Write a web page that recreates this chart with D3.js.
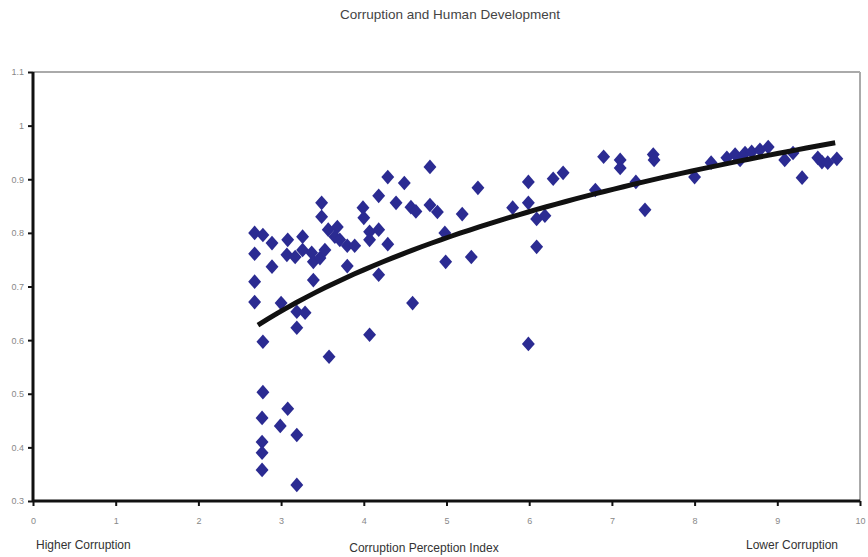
<!DOCTYPE html>
<html>
<head>
<meta charset="utf-8">
<script src="https://cdn.jsdelivr.net/npm/d3@7.9.0/dist/d3.min.js"></script>
<style>
  body { margin: 0; background: #fff; }
  svg text { font-family: "Liberation Sans Narrow", "Liberation Sans", Arial, sans-serif; }
</style>
</head>
<body>
<svg id="chart" width="868" height="557"></svg>
<script>
// corruption perception index (x) vs human development index (y)
const cpi = [
  2.68, 2.78, 2.68, 2.68, 2.68, 2.78, 2.78, 2.77, 2.77, 2.77, 2.77,
  2.89, 2.89, 3.00, 2.99, 3.08, 3.19, 3.19, 3.19, 3.29, 3.19,
  3.08, 3.26, 3.07, 3.17, 3.26, 3.37, 3.39, 3.47, 3.53, 3.39,
  3.49, 3.49, 3.57, 3.68, 3.65, 3.71, 3.80, 3.89, 3.80, 3.58,
  3.99, 4.00, 4.07, 4.18, 4.07, 4.29, 4.18, 4.07, 4.18, 4.29,
  4.49, 4.39, 4.57, 4.63, 4.80, 4.80, 4.89, 4.98, 4.99, 4.59,
  5.19, 5.30, 5.38, 5.80, 5.99, 5.99, 6.09, 6.19, 6.09, 5.99,
  6.29, 6.41, 6.80, 6.90, 7.10, 7.10, 7.29, 7.40, 7.50, 7.51,
  8.00, 8.20, 8.39, 8.49, 8.55, 8.61, 8.69, 8.79, 8.89, 9.09,
  9.19, 9.30, 9.49, 9.54, 9.61, 9.72
];
const hdi = [
  0.800, 0.796, 0.761, 0.709, 0.671, 0.597, 0.503, 0.455, 0.410, 0.390, 0.358,
  0.781, 0.737, 0.669, 0.440, 0.472, 0.423, 0.330, 0.653, 0.651, 0.623,
  0.787, 0.793, 0.759, 0.755, 0.768, 0.763, 0.746, 0.753, 0.768, 0.712,
  0.856, 0.830, 0.806, 0.811, 0.793, 0.787, 0.776, 0.776, 0.738, 0.569,
  0.847, 0.828, 0.802, 0.806, 0.787, 0.779, 0.722, 0.610, 0.869, 0.904,
  0.893, 0.856, 0.848, 0.840, 0.923, 0.852, 0.839, 0.800, 0.746, 0.669,
  0.835, 0.755, 0.884, 0.847, 0.895, 0.856, 0.826, 0.832, 0.774, 0.593,
  0.901, 0.912, 0.880, 0.942, 0.936, 0.921, 0.895, 0.843, 0.946, 0.936,
  0.904, 0.931, 0.940, 0.946, 0.936, 0.949, 0.951, 0.955, 0.960, 0.936,
  0.949, 0.903, 0.940, 0.932, 0.931, 0.938
];
const xTicks = [0, 1, 2, 3, 4, 5, 6, 7, 8, 9, 10];
const yTicks = [0.3, 0.4, 0.5, 0.6, 0.7, 0.8, 0.9, 1, 1.1];

// logarithmic trend line as shown on the chart: y = a + b ln(x)
const trendA = 0.3604;
const trendB = 0.2674;
const trendRange = [2.72, 9.70];

const svg = d3.select("#chart");
const x = d3.scaleLinear().domain([0, 10]).range([33, 860]);
const y = d3.scaleLinear().domain([0.3, 1.1]).range([501, 72]);

// title
svg.append("text")
  .attr("x", 450).attr("y", 19)
  .attr("text-anchor", "middle")
  .attr("font-size", 13.5).attr("fill", "#444")
  .text("Corruption and Human Development");

// frame: gray top/right
svg.append("line").attr("x1", x(0)).attr("x2", x(10)).attr("y1", y(1.1)).attr("y2", y(1.1))
  .attr("stroke", "#aaa").attr("stroke-width", 2);
svg.append("line").attr("x1", x(10)).attr("x2", x(10)).attr("y1", y(1.1)).attr("y2", y(0.3))
  .attr("stroke", "#aaa").attr("stroke-width", 2);

// axes
const xAxis = d3.axisBottom(x).tickValues(xTicks).tickSize(5).tickPadding(12).tickFormat(d3.format("d"));
const yAxis = d3.axisLeft(y).tickValues(yTicks).tickSize(5).tickPadding(4).tickFormat(d => d);

const gx = svg.append("g").attr("transform", `translate(0,${y(0.3)})`).call(xAxis);
const gy = svg.append("g").attr("transform", `translate(${x(0)},0)`).call(yAxis);
[gx, gy].forEach(g => {
  g.select(".domain").attr("stroke", "#111").attr("stroke-width", 3);
  g.selectAll(".tick line").attr("stroke", "#111").attr("stroke-width", 2);
  g.selectAll(".tick text").attr("fill", "#888").attr("font-size", 9)
    .attr("font-family", "'Liberation Sans Narrow', 'Liberation Sans', Arial, sans-serif");
});
gx.select(".domain").attr("d", `M${x(0)},0H${x(10)}`);
gy.select(".domain").attr("d", `M0,${y(1.1)}V${y(0.3) + 1}`);

// points
const pts = cpi.map((v, i) => ({ x: v, y: hdi[i] }));
const sym = d3.symbol().type(d3.symbolSquare).size(92);
svg.append("g").selectAll("path")
  .data(pts)
  .join("path")
  .attr("transform", d => `translate(${x(d.x)},${y(d.y)}) scale(0.95,1.08) rotate(45)`)
  .attr("d", sym)
  .attr("fill", "#2b2b92");

// trend line
const trend = d3.range(0, 61).map(i => trendRange[0] + (trendRange[1] - trendRange[0]) * i / 60);
svg.append("path")
  .datum(trend)
  .attr("fill", "none").attr("stroke", "#111").attr("stroke-width", 5)
  .attr("d", d3.line().x(d => x(d)).y(d => y(trendA + trendB * Math.log(d))));

// bottom labels
svg.append("text").attr("x", 36).attr("y", 549).attr("font-size", 12).attr("fill", "#333")
  .text("Higher Corruption");
svg.append("text").attr("x", 424).attr("y", 552).attr("text-anchor", "middle").attr("font-size", 12).attr("fill", "#333")
  .text("Corruption Perception Index");
svg.append("text").attr("x", 838).attr("y", 549).attr("text-anchor", "end").attr("font-size", 12).attr("fill", "#333")
  .text("Lower Corruption");
</script>
</body>
</html>
